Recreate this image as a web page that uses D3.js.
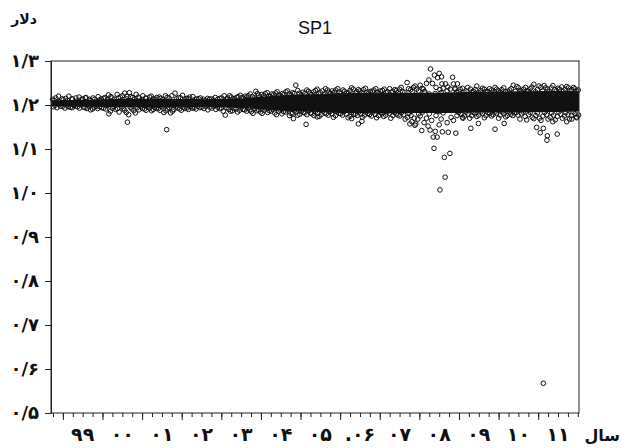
<!DOCTYPE html>
<html>
<head>
<meta charset="utf-8">
<script src="https://cdn.jsdelivr.net/npm/d3@7"></script>
<style>
  body { margin: 0; background: #fff; }
  .fa { font-family: "DejaVu Sans", sans-serif; font-weight: bold; }
</style>
</head>
<body>
<svg id="chart"></svg>
<script>
// time on x axis is a fractional year, values in dollars

const yTicks = [0.5, 0.6, 0.7, 0.8, 0.9, 1.0, 1.1, 1.2, 1.3];
const years = [1999, 2000, 2001, 2002, 2003, 2004, 2005, 2006, 2007, 2008, 2009, 2010, 2011];
const yearLabels = ["99", "00", "01", "02", "03", "04", "05", ".06", "07", "08", "09", "10", "11"];

// saturated middle of the cloud (where circles overlap into solid black)
const coreT = [1998.70, 1999.5, 2000.5, 2001.5, 2002.5, 2003.5, 2004.0, 2004.5, 2005.0, 2005.5, 2006.0, 2007.0, 2007.6, 2008.0, 2008.5, 2008.9, 2009.5, 2010.5, 2011.5, 2012.03];
const coreHigh = [1.211, 1.212, 1.214, 1.214, 1.213, 1.215, 1.219, 1.222, 1.224, 1.225, 1.227, 1.228, 1.228, 1.228, 1.228, 1.229, 1.230, 1.231, 1.232, 1.231];
const coreLow = [1.197, 1.196, 1.195, 1.194, 1.196, 1.193, 1.190, 1.187, 1.185, 1.184, 1.182, 1.181, 1.181, 1.182, 1.182, 1.182, 1.183, 1.183, 1.184, 1.185];

const upperPts = [
  [1998.74,1.213],[1998.82,1.216],[1998.89,1.220],[1998.98,1.214],[1999.07,1.215],[1999.15,1.220],[1999.24,1.213],[1999.33,1.216],
  [1999.41,1.218],[1999.50,1.214],[1999.58,1.217],[1999.67,1.213],[1999.76,1.216],[1999.89,1.219],[1999.97,1.214],[2000.06,1.217],
  [2000.15,1.223],[2000.24,1.216],[2000.37,1.224],[2000.45,1.218],[2000.56,1.227],[2000.62,1.220],[2000.68,1.228],[2000.76,1.217],
  [2000.85,1.224],[2000.93,1.216],[2001.02,1.221],[2001.10,1.215],[2001.19,1.218],[2001.28,1.214],[2001.37,1.217],[2001.47,1.215],
  [2001.59,1.221],[2001.68,1.216],[2001.83,1.227],[2001.92,1.217],[2002.02,1.222],[2002.12,1.215],[2002.20,1.218],[2002.28,1.219],
  [2002.38,1.214],[2002.47,1.216],[2002.55,1.213],[2002.65,1.215],[2002.75,1.214],[2002.85,1.217],[2002.96,1.215],[2003.07,1.221],
  [2003.16,1.216],[2003.25,1.218],[2003.34,1.215],[2003.42,1.219],[2003.52,1.217],[2003.60,1.220],[2003.68,1.221],[2003.78,1.219],
  [2003.87,1.231],[2003.94,1.222],[2004.02,1.224],[2004.11,1.226],[2004.20,1.221],[2004.28,1.225],[2004.37,1.227],[2004.45,1.223],
  [2004.54,1.226],[2004.63,1.230],[2004.72,1.225],[2004.80,1.228],[2004.88,1.245],[2004.97,1.227],[2005.06,1.229],[2005.16,1.234],
  [2005.24,1.227],[2005.33,1.230],[2005.42,1.236],[2005.50,1.228],[2005.63,1.237],[2005.72,1.229],[2005.80,1.232],[2005.89,1.234],
  [2005.98,1.229],[2006.11,1.231],[2006.20,1.228],[2006.33,1.236],[2006.42,1.230],[2006.50,1.232],[2006.59,1.235],[2006.68,1.229],
  [2006.76,1.231],[2006.85,1.234],[2006.94,1.229],[2007.02,1.232],[2007.11,1.236],[2007.20,1.230],[2007.33,1.231],[2007.42,1.233],
  [2007.50,1.236],[2007.58,1.230],[2007.69,1.251],[2007.78,1.235],[2007.89,1.243],[2007.98,1.232],[2008.07,1.238],[2008.90,1.236],
  [2009.00,1.231],[2009.09,1.238],[2009.18,1.232],[2009.29,1.236],[2009.37,1.231],[2009.45,1.243],[2009.55,1.233],[2009.64,1.236],
  [2009.72,1.231],[2009.82,1.234],[2009.91,1.240],[2010.00,1.232],[2010.08,1.235],[2010.18,1.231],[2010.28,1.234],[2010.37,1.245],
  [2010.46,1.242],[2010.55,1.233],[2010.63,1.236],[2010.72,1.232],[2010.80,1.237],[2010.89,1.247],[2010.98,1.235],[2011.07,1.240],
  [2011.15,1.244],[2011.24,1.236],[2011.33,1.239],[2011.42,1.235],[2011.50,1.238],[2011.59,1.241],[2011.68,1.236],[2011.76,1.239],
  [2011.85,1.235],[2011.93,1.237],[2012.01,1.234]
];

const innerUpperPts = [
  [1998.78,1.211],[1998.90,1.208],[1999.01,1.212],[1999.12,1.210],[1999.23,1.214],[1999.35,1.209],[1999.46,1.212],[1999.57,1.216],
  [1999.68,1.210],[1999.80,1.213],[1999.92,1.211],[2000.03,1.215],[2000.12,1.212],[2000.21,1.219],[2000.30,1.213],[2000.40,1.216],
  [2000.50,1.221],[2000.60,1.214],[2000.71,1.219],[2000.80,1.213],[2000.90,1.218],[2001.00,1.212],[2001.09,1.216],[2001.23,1.220],
  [2001.33,1.213],[2001.43,1.218],[2001.52,1.212],[2001.63,1.217],[2001.75,1.221],[2001.87,1.214],[2001.97,1.216],[2002.07,1.212],
  [2002.16,1.215],[2002.33,1.212],[2002.43,1.214],[2002.60,1.211],[2002.70,1.213],[2002.80,1.211],[2002.91,1.213],[2003.01,1.216],
  [2003.12,1.213],[2003.21,1.221],[2003.30,1.214],[2003.39,1.217],[2003.48,1.222],[2003.56,1.215],[2003.64,1.218],[2003.73,1.225],
  [2003.83,1.216],[2003.91,1.226],[2003.98,1.219],[2004.07,1.221],[2004.16,1.228],[2004.24,1.219],[2004.32,1.223],[2004.41,1.230],
  [2004.50,1.221],[2004.58,1.224],[2004.67,1.232],[2004.76,1.222],[2004.84,1.226],[2004.93,1.233],[2005.02,1.223],[2005.11,1.226],
  [2005.20,1.231],[2005.28,1.224],[2005.38,1.233],[2005.46,1.225],[2005.55,1.232],[2005.59,1.224],[2005.68,1.234],[2005.76,1.226],
  [2005.85,1.229],[2005.94,1.237],[2006.02,1.226],[2006.07,1.234],[2006.16,1.227],[2006.25,1.233],[2006.29,1.239],[2006.38,1.227],
  [2006.46,1.235],[2006.55,1.228],[2006.64,1.238],[2006.72,1.227],[2006.81,1.231],[2006.90,1.237],[2006.98,1.227],[2007.07,1.233],
  [2007.16,1.228],[2007.25,1.237],[2007.29,1.229],[2007.38,1.235],[2007.46,1.228],[2007.54,1.240],[2007.63,1.229],[2007.73,1.237],
  [2007.82,1.231],[2008.94,1.229],[2009.03,1.236],[2009.13,1.229],[2009.22,1.240],[2009.33,1.230],[2009.41,1.235],[2009.50,1.228],
  [2009.59,1.238],[2009.68,1.230],[2009.77,1.237],[2009.86,1.229],[2009.95,1.236],[2010.04,1.229],[2010.13,1.239],[2010.23,1.230],
  [2010.32,1.237],[2010.42,1.231],[2010.50,1.239],[2010.59,1.230],[2010.68,1.240],[2010.76,1.231],[2010.84,1.241],[2010.93,1.230],
  [2011.02,1.243],[2011.11,1.232],[2011.19,1.239],[2011.28,1.231],[2011.37,1.244],[2011.46,1.232],[2011.54,1.236],[2011.63,1.231],
  [2011.72,1.242],[2011.80,1.232],[2011.89,1.240],[2011.97,1.231]
];

const lowerPts = [
  [1998.76,1.196],[1998.85,1.194],[1998.94,1.197],[1999.05,1.193],[1999.14,1.196],[1999.23,1.194],[1999.32,1.197],[1999.42,1.193],
  [1999.52,1.195],[1999.61,1.192],[1999.70,1.189],[1999.79,1.195],[1999.88,1.192],[1999.98,1.194],[2000.08,1.191],[2000.16,1.180],
  [2000.25,1.193],[2000.33,1.190],[2000.42,1.184],[2000.52,1.192],[2000.60,1.183],[2000.66,1.178],[2000.74,1.191],[2000.83,1.182],
  [2000.92,1.189],[2001.01,1.192],[2001.10,1.188],[2001.19,1.193],[2001.28,1.190],[2001.36,1.192],[2001.45,1.188],[2001.55,1.183],
  [2001.64,1.191],[2001.72,1.182],[2001.80,1.190],[2001.90,1.193],[2001.99,1.188],[2002.08,1.192],[2002.17,1.190],[2002.27,1.193],
  [2002.36,1.191],[2002.46,1.194],[2002.56,1.192],[2002.66,1.189],[2002.76,1.193],[2002.86,1.190],[2002.96,1.192],[2003.05,1.186],
  [2003.10,1.177],[2003.19,1.190],[2003.28,1.187],[2003.37,1.191],[2003.46,1.188],[2003.55,1.190],[2003.64,1.186],[2003.72,1.189],
  [2003.80,1.181],[2003.90,1.187],[2003.99,1.184],[2004.08,1.188],[2004.17,1.183],[2004.26,1.186],[2004.35,1.182],[2004.44,1.186],
  [2004.53,1.180],[2004.62,1.184],[2004.72,1.176],[2004.80,1.181],[2004.89,1.184],[2004.98,1.179],[2005.07,1.183],[2005.16,1.178],
  [2005.25,1.182],[2005.34,1.176],[2005.43,1.181],[2005.52,1.178],[2005.61,1.182],[2005.70,1.177],[2005.79,1.180],[2005.88,1.176],
  [2005.97,1.181],[2006.06,1.177],[2006.15,1.180],[2006.25,1.174],[2006.34,1.179],[2006.43,1.176],[2006.52,1.180],[2006.61,1.177],
  [2006.70,1.181],[2006.79,1.175],[2006.88,1.179],[2006.97,1.176],[2007.06,1.180],[2007.15,1.177],[2007.24,1.181],[2007.33,1.176],
  [2007.42,1.180],[2007.51,1.175],[2007.60,1.178],[2007.70,1.172],[2007.79,1.176],[2008.95,1.176],[2009.05,1.179],[2009.14,1.175],
  [2009.23,1.179],[2009.32,1.176],[2009.41,1.180],[2009.50,1.177],[2009.59,1.181],[2009.68,1.176],[2009.77,1.180],[2009.86,1.178],
  [2009.95,1.181],[2010.04,1.177],[2010.13,1.180],[2010.22,1.176],[2010.31,1.179],[2010.40,1.182],[2010.49,1.177],[2010.58,1.180],
  [2010.67,1.174],[2010.76,1.178],[2010.85,1.172],[2010.94,1.176],[2011.03,1.170],[2011.12,1.175],[2011.21,1.178],[2011.30,1.172],
  [2011.39,1.177],[2011.48,1.174],[2011.57,1.179],[2011.66,1.175],[2011.75,1.178],[2011.84,1.176],[2011.93,1.180],[2012.02,1.177]
];

const innerLowerPts = [
  [1998.80,1.199],[1998.91,1.201],[1999.00,1.197],[1999.10,1.200],[1999.19,1.195],[1999.28,1.199],[1999.37,1.196],[1999.47,1.200],
  [1999.56,1.194],[1999.65,1.198],[1999.75,1.191],[1999.84,1.197],[1999.93,1.196],[2000.03,1.193],[2000.12,1.198],[2000.20,1.186],
  [2000.29,1.196],[2000.38,1.192],[2000.47,1.197],[2000.56,1.188],[2000.70,1.195],[2000.79,1.187],[2000.88,1.194],[2000.97,1.196],
  [2001.06,1.191],[2001.15,1.196],[2001.24,1.187],[2001.32,1.195],[2001.41,1.192],[2001.50,1.196],[2001.60,1.187],[2001.68,1.194],
  [2001.77,1.186],[2001.86,1.196],[2001.95,1.191],[2002.04,1.195],[2002.13,1.193],[2002.22,1.196],[2002.31,1.194],[2002.41,1.197],
  [2002.51,1.195],[2002.61,1.197],[2002.71,1.195],[2002.81,1.197],[2002.91,1.195],[2003.00,1.193],[2003.14,1.194],[2003.23,1.186],
  [2003.32,1.193],[2003.41,1.184],[2003.50,1.194],[2003.59,1.189],[2003.68,1.193],[2003.76,1.185],[2003.85,1.192],[2003.94,1.189],
  [2004.03,1.181],[2004.12,1.191],[2004.21,1.187],[2004.30,1.190],[2004.39,1.178],[2004.48,1.189],[2004.57,1.185],[2004.66,1.189],
  [2004.76,1.181],[2004.85,1.188],[2004.93,1.177],[2005.02,1.186],[2005.11,1.182],[2005.20,1.187],[2005.29,1.180],[2005.38,1.186],
  [2005.47,1.174],[2005.56,1.186],[2005.65,1.180],[2005.74,1.185],[2005.83,1.172],[2005.92,1.184],[2006.01,1.180],[2006.10,1.185],
  [2006.20,1.171],[2006.29,1.183],[2006.38,1.179],[2006.47,1.184],[2006.56,1.172],[2006.65,1.183],[2006.74,1.178],[2006.83,1.184],
  [2006.92,1.171],[2007.01,1.183],[2007.10,1.174],[2007.19,1.184],[2007.28,1.170],[2007.37,1.183],[2007.46,1.177],[2007.55,1.183],
  [2007.64,1.168],[2007.74,1.181],[2008.99,1.183],[2009.09,1.172],[2009.18,1.184],[2009.27,1.170],[2009.36,1.183],[2009.45,1.174],
  [2009.55,1.184],[2009.64,1.171],[2009.73,1.183],[2009.82,1.175],[2009.91,1.184],[2010.00,1.170],[2010.09,1.184],[2010.18,1.173],
  [2010.27,1.184],[2010.36,1.176],[2010.45,1.183],[2010.54,1.168],[2010.62,1.184],[2010.71,1.166],[2010.80,1.183],[2010.89,1.169],
  [2010.98,1.182],[2011.07,1.165],[2011.16,1.183],[2011.25,1.168],[2011.34,1.182],[2011.43,1.166],[2011.52,1.184],[2011.61,1.170],
  [2011.70,1.183],[2011.79,1.168],[2011.88,1.184],[2011.97,1.171]
];

// the 2008 spread
const crisisPts = [
  [2007.85,1.240],[2007.93,1.236],[2008.02,1.245],[2008.10,1.236],[2008.18,1.249],[2008.24,1.257],[2008.28,1.282],[2008.33,1.249],
  [2008.38,1.268],[2008.42,1.240],[2008.46,1.262],[2008.50,1.272],[2008.56,1.264],[2008.57,1.248],[2008.60,1.238],[2008.66,1.248],
  [2008.72,1.241],[2008.84,1.263],[2008.86,1.248],[2008.96,1.248],[2008.78,1.236],[2008.90,1.238],[2008.14,1.230],[2008.52,1.235],
  [2008.05,1.215],[2008.15,1.205],[2008.25,1.225],[2008.35,1.198],[2008.45,1.212],[2008.55,1.228],[2008.65,1.202],[2008.75,1.218],
  [2008.30,1.190],[2008.50,1.185],[2008.12,1.230],[2008.40,1.226],[2008.62,1.214],[2008.82,1.196],[2008.20,1.196],[2008.70,1.232],
  [2007.81,1.162],[2007.87,1.170],[2007.91,1.157],[2007.96,1.168],[2008.02,1.175],[2008.06,1.142],[2008.12,1.160],[2008.18,1.170],
  [2008.22,1.152],[2008.27,1.143],[2008.31,1.165],[2008.35,1.127],[2008.37,1.1015],[2008.40,1.140],[2008.45,1.127],[2008.50,1.155],
  [2008.52,1.007],[2008.55,1.168],[2008.58,1.139],[2008.63,1.081],[2008.65,1.036],[2008.70,1.160],[2008.73,1.138],[2008.77,1.090],
  [2008.80,1.172],[2008.86,1.165],[2008.92,1.136],[2008.25,1.180],[2008.42,1.176],[2008.60,1.182],[2008.08,1.184],[2007.98,1.180]
];

const outlierPts = [
  [2000.63,1.161],[2001.62,1.144],[2004.82,1.169],[2005.14,1.156],[2005.42,1.173],[2006.29,1.169],[2006.46,1.157],[2006.55,1.163],
  [2007.76,1.157],[2007.89,1.154],[2009.10,1.170],[2009.30,1.147],[2009.49,1.158],[2009.91,1.145],[2010.14,1.158],[2010.96,1.149],
  [2011.13,1.147],[2011.05,1.137],[2011.23,1.130],[2011.22,1.120],[2011.48,1.134],[2011.37,1.162],[2011.72,1.162],[2011.85,1.168],
  [2011.97,1.173],[2011.13,0.5675]
];

const toFa = (s) => s.replace(/\d/g, (d) => "۰۱۲۳۴۵۶۷۸۹"[d]);

const W = 622, H = 448;
const margin = { top: 61, right: 43, bottom: 35, left: 51 };
const width = W - margin.left - margin.right,
  height = H - margin.top - margin.bottom;

const svg = d3.select("#chart").attr("width", W).attr("height", H);
const g = svg.append("g").attr("transform", `translate(${margin.left},${margin.top})`);

const x = d3.scaleLinear().domain([1998.70, 2012.03]).range([0, width]);
const y = d3.scaleLinear().domain([0.5, 1.3]).range([height, 0]);

// core band
const core = coreT.map((t, i) => ({ t, hi: coreHigh[i], lo: coreLow[i] }));
g.append("path")
  .datum(core)
  .attr("fill", "#111")
  .attr("d", d3.area().x((d) => x(d.t)).y0((d) => y(d.lo)).y1((d) => y(d.hi)));

const allPts = upperPts.concat(innerUpperPts, lowerPts, innerLowerPts, crisisPts, outlierPts);
g.selectAll("circle.pt")
  .data(allPts)
  .enter()
  .append("circle")
  .attr("class", "pt")
  .attr("cx", (d) => x(d[0]))
  .attr("cy", (d) => y(d[1]))
  .attr("r", 2.3)
  .attr("fill", "none")
  .attr("stroke", "#111")
  .attr("stroke-width", 1);

// frame
g.append("rect")
  .attr("width", width)
  .attr("height", height)
  .attr("fill", "none")
  .attr("stroke", "#222");

// y axis
const yAxis = g.append("g")
  .call(d3.axisLeft(y).tickValues(yTicks).tickSize(6).tickPadding(6)
    .tickFormat((d) => toFa(d.toFixed(1).replace(".", "/"))));
yAxis.select(".domain").attr("stroke", "#222");
yAxis.selectAll("line").attr("stroke", "#222");
yAxis.selectAll("text").attr("class", "fa").style("font-size", "18px").attr("fill", "#111");

// x axis: quarter ticks, longer at each year
const quarters = d3.range(1998.75, 2012.01, 0.25);
const xMinor = g.append("g").attr("transform", `translate(0,${height})`)
  .call(d3.axisBottom(x).tickValues(quarters).tickSize(4).tickFormat(""));
xMinor.select(".domain").remove();
xMinor.selectAll("line").attr("stroke", "#222");

const xMajor = g.append("g").attr("transform", `translate(0,${height})`)
  .call(d3.axisBottom(x).tickValues(years).tickSize(7).tickFormat(""));
xMajor.select(".domain").remove();
xMajor.selectAll("line").attr("stroke", "#222");

g.append("g")
  .selectAll("text")
  .data(years)
  .enter()
  .append("text")
  .attr("class", "fa")
  .attr("x", (d) => x(d + 0.5))
  .attr("y", height + 28)
  .attr("text-anchor", "middle")
  .style("font-size", "19px")
  .attr("fill", "#111")
  .text((d, i) => toFa(yearLabels[i]));

// titles
svg.append("text")
  .attr("x", margin.left + width / 2)
  .attr("y", 34)
  .attr("text-anchor", "middle")
  .style("font-family", "'Liberation Sans', Arial, sans-serif")
  .style("font-size", "18px")
  .attr("fill", "#111")
  .text("SP1");

svg.append("text")
  .attr("class", "fa")
  .attr("x", 24)
  .attr("y", 24)
  .attr("text-anchor", "middle")
  .style("font-size", "14px")
  .attr("fill", "#111")
  .text("دلار");

svg.append("text")
  .attr("class", "fa")
  .attr("x", 620)
  .attr("y", 441)
  .attr("text-anchor", "end")
  .style("font-size", "16px")
  .attr("fill", "#111")
  .text("سال");
</script>
</body>
</html>
